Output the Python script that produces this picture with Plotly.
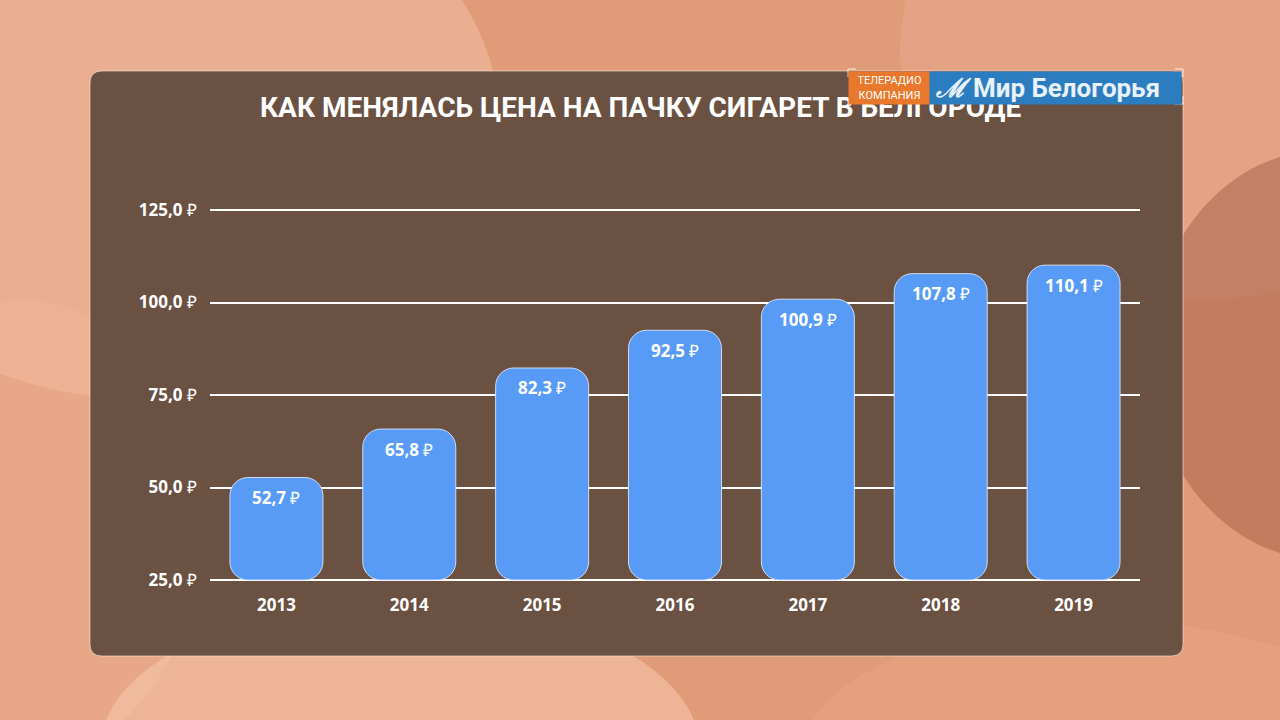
import plotly.graph_objects as go

# ---- data ----
years = ["2013", "2014", "2015", "2016", "2017", "2018", "2019"]
prices = [52.7, 65.8, 82.3, 92.5, 100.9, 107.8, 110.1]
price_labels = ["52,7", "65,8", "82,3", "92,5", "100,9", "107,8", "110,1"]
tick_vals = [25, 50, 75, 100, 125]
tick_labels = ["25,0", "50,0", "75,0", "100,0", "125,0"]
title_text = "КАК МЕНЯЛАСЬ ЦЕНА НА ПАЧКУ СИГАРЕТ В БЕЛГОРОДЕ"
axis_base = 25

W, H = 1280, 720
L, R, T, B = 210, 140, 206, 136
PW, PH = W - L - R, H - T - B


def px(x):
    return (x - L) / PW


def py(y):
    return (H - B - y) / PH


BAR = "#589bf6"
PANEL = "#6a5142"

fig = go.Figure()
fig.add_trace(go.Bar(
    x=years, y=[v - axis_base for v in prices], base=[axis_base] * len(prices),
    marker=dict(color=BAR, cornerradius=18,
                line=dict(width=1, color="rgba(225,235,255,0.85)")),
    hoverinfo="skip", showlegend=False,
))

shapes = []
# background blobs
blobs = [
    (-200, -150, 500, 400, "#f2c0a4", 0.55),
    (900, -200, 1500, 300, "#e7a98e", 0.6),
    (1150, 150, 1500, 560, "#a9644a", 0.55),
    (-150, 300, 200, 760, "#f0b596", 0.5),
    (100, 600, 700, 900, "#f5c7aa", 0.6),
    (800, 620, 1400, 900, "#e9a884", 0.5),
]
for x0, y0, x1, y1, c, op in blobs:
    shapes.append(dict(type="circle", xref="paper", yref="paper",
                       x0=px(x0), x1=px(x1), y0=py(y1), y1=py(y0),
                       fillcolor=c, opacity=op, line=dict(width=0), layer="below"))


def rrect(x0, y0, x1, y1, r):
    return (f"M {px(x0 + r)},{py(y0)} L {px(x1 - r)},{py(y0)} "
            f"Q {px(x1)},{py(y0)} {px(x1)},{py(y0 + r)} "
            f"L {px(x1)},{py(y1 - r)} Q {px(x1)},{py(y1)} {px(x1 - r)},{py(y1)} "
            f"L {px(x0 + r)},{py(y1)} Q {px(x0)},{py(y1)} {px(x0)},{py(y1 - r)} "
            f"L {px(x0)},{py(y0 + r)} Q {px(x0)},{py(y0)} {px(x0 + r)},{py(y0)} Z")


# panel
shapes.append(dict(type="path", xref="paper", yref="paper",
                   path=rrect(90, 71, 1183, 656, 12),
                   fillcolor=PANEL, line=dict(color="rgba(255,230,215,0.6)", width=1),
                   layer="below"))
# frame corners around the logo
for (ax, ay, dx, dy) in [(848, 69, 1, 1), (1183, 69, -1, 1), (1183, 104, -1, -1)]:
    shapes.append(dict(type="path", xref="paper", yref="paper",
                       path=(f"M {px(ax)},{py(ay + 8 * dy)} L {px(ax)},{py(ay)} "
                             f"L {px(ax + 8 * dx)},{py(ay)}"),
                       line=dict(color="rgba(255,255,255,0.8)", width=1), layer="above"))

annotations = [
    # title first, so the logo boxes drawn later cover it (as in the broadcast frame)
    dict(x=px(640), y=py(108), xref="paper", yref="paper", xanchor="center",
         yanchor="middle", text=f"<b>{title_text}</b>", showarrow=False,
         font=dict(family="Roboto", size=28, color="white")),
]
for i, (v, lab) in enumerate(zip(prices, price_labels)):
    annotations.append(dict(
        x=i, y=v, xref="x", yref="y", yshift=-20, yanchor="middle",
        text=f"<b>{lab}</b> ₽", showarrow=False,
        font=dict(family="Open Sans", size=17, color="white"),
    ))
annotations += [
    dict(x=px(848), y=py(71), xref="paper", yref="paper", xanchor="left", yanchor="top",
         width=81, height=32, borderpad=0, bgcolor="#e9772c", align="center",
         text="ТЕЛЕРАДИО<br>КОМПАНИЯ", showarrow=False,
         font=dict(family="Roboto", size=11, color="white")),
    dict(x=px(929), y=py(71), xref="paper", yref="paper", xanchor="left", yanchor="top",
         width=251, height=32, borderpad=0, bgcolor="#2c7dbf", align="left",
         text=" <i><b>ℳ</b></i> <b>Мир Белогорья</b>", showarrow=False,
         font=dict(family="Roboto", size=26, color="#e8f0fa")),
]

fig.update_layout(
    width=W, height=H,
    margin=dict(l=L, r=R, t=T, b=B),
    paper_bgcolor="#e09b78",
    plot_bgcolor="rgba(0,0,0,0)",
    bargap=0.3,
    shapes=shapes,
    annotations=annotations,
    showlegend=False,
    font=dict(family="Open Sans", color="white"),
    xaxis=dict(type="category", range=[-0.5, len(years) - 0.5], showgrid=False,
               zeroline=False, showline=False, ticks="", ticklabelstandoff=9,
               tickfont=dict(family="Open Sans", size=17, color="white", weight="bold")),
    yaxis=dict(range=[axis_base - 4 / 3.7, 125 + 4 / 3.7], tickvals=tick_vals,
               ticktext=[f"<b>{t}</b> ₽" for t in tick_labels],
               showgrid=True, gridcolor="white", gridwidth=2,
               zeroline=False, showline=False, ticks="", ticklabelstandoff=12,
               tickfont=dict(family="Open Sans", size=17, color="white")),
)

fig.write_html("out.html", config={"displayModeBar": False},
               post_script="document.body.style.margin='0';")
